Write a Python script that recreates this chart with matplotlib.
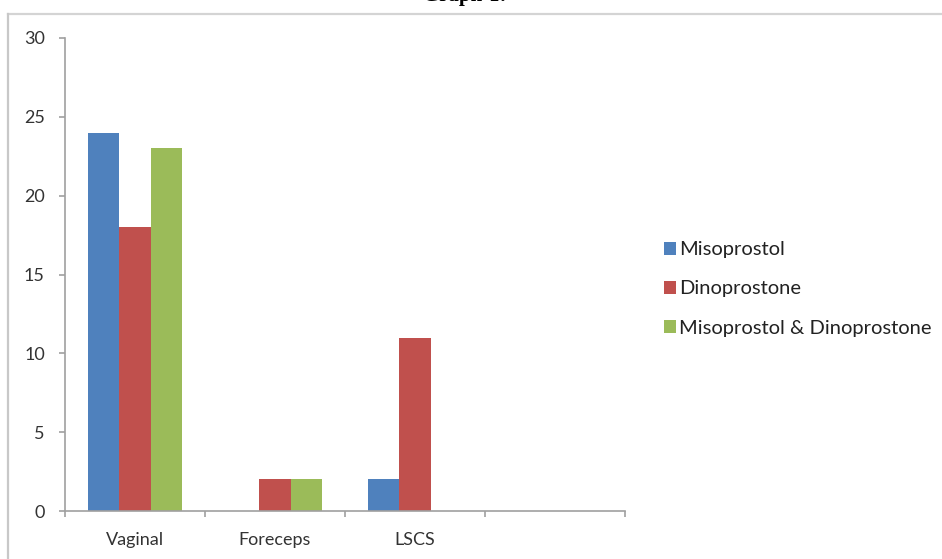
import matplotlib.pyplot as plt
from matplotlib.lines import Line2D
import numpy as np

categories = ["Vaginal", "Foreceps", "LSCS", ""]
misoprostol = [24, 0, 2, 0]
dinoprostone = [18, 2, 11, 0]
combined = [23, 2, 0, 0]
series = ["Misoprostol", "Dinoprostone", "Misoprostol & Dinoprostone"]
colors = ["#4F81BD", "#C0504D", "#9BBB59"]

plt.rcParams['font.family'] = ['Lato', 'DejaVu Sans']

fig = plt.figure(figsize=(9.42, 5.59), dpi=100)
ax = fig.add_axes([65/942, 1-511/559, 560/942, 473/559])

x = np.arange(len(categories))
w = 0.222
for i, vals in enumerate([misoprostol, dinoprostone, combined]):
    ax.bar(x + (i-1)*w, vals, w, color=colors[i], label=series[i])

ax.set_xlim(-0.5, 3.5)
ax.set_ylim(0, 30)
ax.set_yticks(range(0, 31, 5))
ax.set_xticks(x)
ax.set_xticklabels(categories)
ax.set_xticks(np.arange(-0.5, 3.6, 1), minor=True)
ax.tick_params(axis='x', which='major', length=0, pad=15, labelsize=13, colors='#333333')
ax.tick_params(axis='x', which='minor', length=4.5, color='#a0a0a0', width=1.2)
ax.tick_params(axis='y', length=4.5, color='#a0a0a0', width=1.2, pad=10,
               labelsize=13, labelcolor='#333333')
for s in ['top', 'right']:
    ax.spines[s].set_visible(False)
for s in ['left', 'bottom']:
    ax.spines[s].set_color('#a0a0a0')
    ax.spines[s].set_linewidth(1.2)

fig.legend(loc='center left', bbox_to_anchor=(646/942, 1-289/559), frameon=False,
           handlelength=0.6, handleheight=0.6, handletextpad=0.15,
           labelspacing=1.1, fontsize=14.5, labelcolor='#222222')

# outer chart frame
fig.add_artist(Line2D([8/942, 1], [1-14/559, 1-14/559], color='#d4d4d4', lw=1.6))
fig.add_artist(Line2D([8/942, 8/942], [0, 1-14/559], color='#c8c8c8', lw=1.6))

fig.text(465/942, 1-1/559, "Graph-1:", ha='center', va='baseline',
         family='Liberation Serif', fontweight='bold', fontsize=15, color='black')

fig.savefig("out.png", dpi=100)
